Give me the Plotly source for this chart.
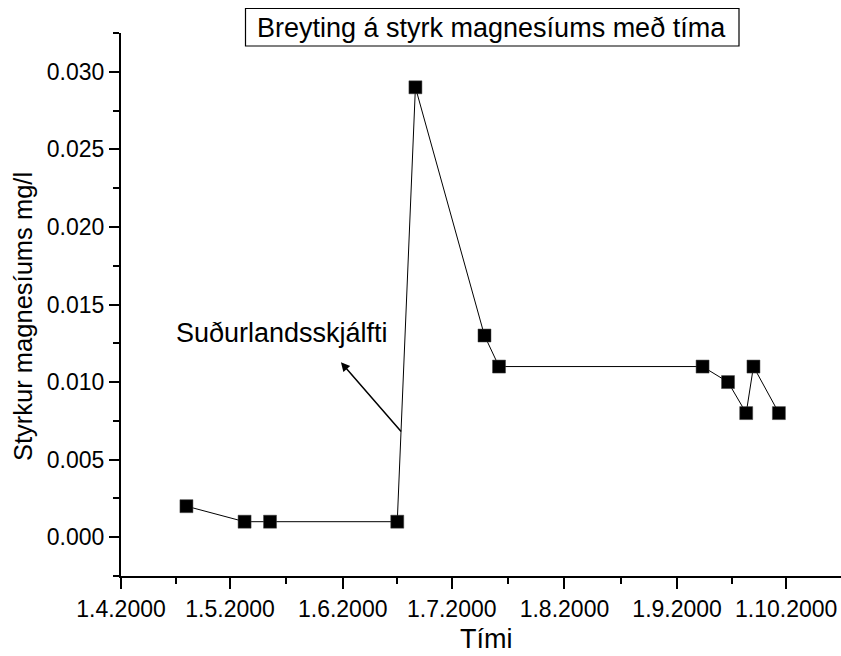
import plotly.graph_objects as go

dates = ["2000-04-19", "2000-05-05", "2000-05-12", "2000-06-16", "2000-06-21",
         "2000-07-10", "2000-07-14", "2000-09-08", "2000-09-15", "2000-09-20",
         "2000-09-22", "2000-09-29"]
magnesium = [0.002, 0.001, 0.001, 0.001, 0.029, 0.013, 0.011, 0.011, 0.010,
             0.008, 0.011, 0.008]

x_tickvals = ["2000-04-01", "2000-05-01", "2000-06-01", "2000-07-01",
              "2000-08-01", "2000-09-01", "2000-10-01"]
x_ticktext = ["1.4.2000", "1.5.2000", "1.6.2000", "1.7.2000", "1.8.2000",
              "1.9.2000", "1.10.2000"]
x_minor = ["2000-04-16", "2000-05-16 12:00", "2000-06-16", "2000-07-16 12:00",
           "2000-08-16 12:00", "2000-09-16"]
y_tickvals = [0.000, 0.005, 0.010, 0.015, 0.020, 0.025, 0.030]
y_ticktext = ["0.000", "0.005", "0.010", "0.015", "0.020", "0.025", "0.030"]

title_text = "Breyting á styrk magnesíums með tíma"
x_title = "Tími"
y_title = "Styrkur magnesíums mg/l"
event_label = "Suðurlandsskjálfti"

FONT = "Arial, 'Liberation Sans', Helvetica, sans-serif"

fig = go.Figure()
fig.add_trace(go.Scatter(
    x=dates, y=magnesium, mode="lines+markers",
    line=dict(color="black", width=1),
    marker=dict(symbol="square", size=13, color="black",
                line=dict(color="#444", width=0.5)),
    showlegend=False, cliponaxis=False,
))

W, H = 841, 656
L, R, T, B = 121, 0, 33, 80

fig.update_layout(
    width=W, height=H,
    margin=dict(l=L, r=R, t=T, b=B, pad=0),
    paper_bgcolor="white", plot_bgcolor="white",
    font=dict(family=FONT, color="black"),
    xaxis=dict(
        type="date",
        range=["2000-04-01", "2000-10-16 02:00"],
        tickmode="array", tickvals=x_tickvals, ticktext=x_ticktext,
        ticks="outside", ticklen=11, tickwidth=2, tickcolor="black",
        showline=True, linecolor="black", linewidth=2,
        showgrid=False, zeroline=False,
        tickfont=dict(size=23, family=FONT),
        minor=dict(tickmode="array", tickvals=x_minor, ticks="outside",
                   ticklen=6, tickwidth=2, tickcolor="black", showgrid=False),
    ),
    yaxis=dict(
        range=[-0.0025, 0.0325],
        tickmode="array", tickvals=y_tickvals, ticktext=y_ticktext,
        ticks="outside", ticklen=10, tickwidth=2, tickcolor="black",
        showline=True, linecolor="black", linewidth=2,
        showgrid=False, zeroline=False,
        tickfont=dict(size=23, family=FONT),
        minor=dict(tickmode="linear", tick0=0.0025, dtick=0.005, ticks="outside",
                   ticklen=6, tickwidth=2, tickcolor="black", showgrid=False),
    ),
)

pw = W - L - R
ph = H - T - B

def px_to_paper_x(px):
    return (px - L) / pw

def px_to_paper_y(py):
    return (H - B - py) / ph

# Title box (frame drawn as a shape, text as annotation)
fig.add_shape(
    type="rect", xref="paper", yref="paper",
    x0=px_to_paper_x(245.5), x1=px_to_paper_x(739),
    y0=px_to_paper_y(46), y1=px_to_paper_y(8.5),
    line=dict(color="black", width=1.2), fillcolor="white", layer="above",
)
fig.add_annotation(
    text=title_text, xref="paper", yref="paper",
    x=px_to_paper_x(492), y=px_to_paper_y(27.5),
    xanchor="center", yanchor="middle", showarrow=False,
    font=dict(size=27, family=FONT, color="black"),
)
# Axis titles
fig.add_annotation(
    text=x_title, xref="paper", yref="paper",
    x=px_to_paper_x(486), y=px_to_paper_y(639),
    xanchor="center", yanchor="middle", showarrow=False,
    font=dict(size=27, family=FONT, color="black"),
)
fig.add_annotation(
    text=y_title, xref="paper", yref="paper",
    x=px_to_paper_x(23), y=px_to_paper_y(317),
    xanchor="center", yanchor="middle", showarrow=False, textangle=-90,
    font=dict(size=25.5, family=FONT, color="black"),
)
# Event label and arrow
fig.add_annotation(
    text=event_label, xref="x", yref="y",
    x="2000-05-15 05:00", y=0.01315,
    xanchor="center", yanchor="middle", showarrow=False,
    font=dict(size=27, family=FONT, color="black"),
)
fig.add_annotation(
    text="", xref="x", yref="y", axref="x", ayref="y",
    x="2000-05-31 12:00", y=0.01128,
    ax="2000-06-17 10:00", ay=0.00671,
    showarrow=True, arrowhead=2, arrowsize=1.2, arrowwidth=1.5,
    arrowcolor="black", standoff=0, startstandoff=0,
)

fig.write_html("out.html")
